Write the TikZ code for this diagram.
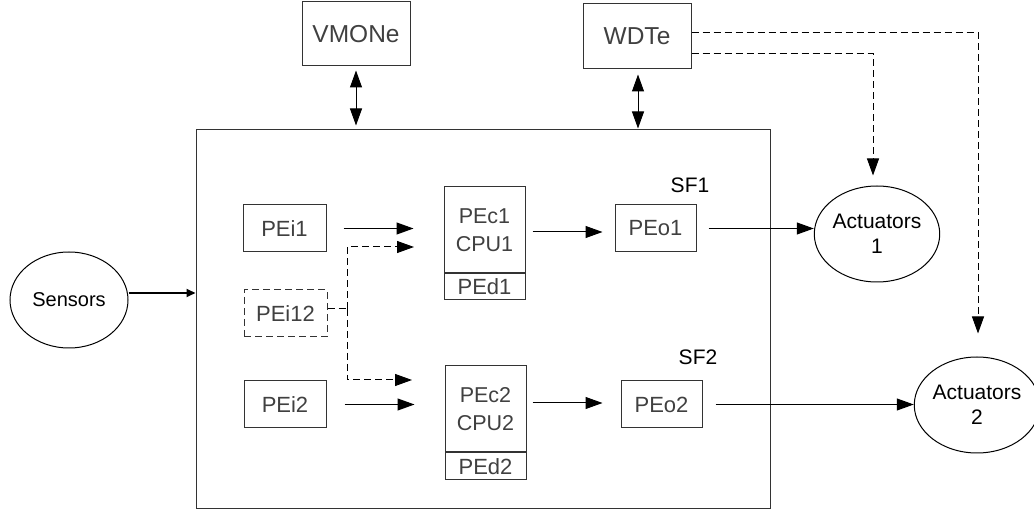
\documentclass[tikz,border=0pt]{standalone}
\usepackage{fontspec}
\setmainfont{Liberation Sans}
\usetikzlibrary{arrows.meta,shapes.geometric}
\begin{document}
\begin{tikzpicture}[x=1pt,y=-1pt,
  box/.style={draw=black!80, line width=1pt, inner sep=0pt, text=black!75,
    font=\fontsize{22}{28}\selectfont, align=center},
  big text/.style={font=\fontsize{24.5}{28}\selectfont},
  ell/.style={ellipse, draw=black, line width=1pt, inner sep=0pt,
    font=\fontsize{21}{25}\selectfont, align=center},
  lbl/.style={inner sep=0pt, font=\fontsize{21}{24}\selectfont},
  arr/.style={-{Triangle[length=17pt,width=12pt]}, line width=1pt},
  darr/.style={{Triangle[length=17pt,width=12pt]}-{Triangle[length=17pt,width=12pt]}, line width=1pt},
  dsh/.style={dash pattern=on 7pt off 4pt}]
\useasboundingbox (0,0) rectangle (1034,510);

% outer block
\node[box, minimum width=574pt, minimum height=378pt] (big) at (483,319) {};

% top boxes
\node[box, big text, minimum width=108pt, minimum height=64pt] (vmon) at (356,34) {VMONe};
\node[box, big text, minimum width=108pt, minimum height=65pt] (wdt) at (637,36.5) {WDTe};

% input PEs
\node[box, minimum width=83pt, minimum height=47pt] (pei1) at (284.5,228.5) {PEi1};
\node[box, dsh, minimum width=83pt, minimum height=47pt] (pei12) at (285.5,313.5) {PEi12};
\node[box, minimum width=82pt, minimum height=47pt] (pei2) at (285,404.5) {PEi2};

% compute PEs
\node[box, font=\fontsize{21.5}{28}\selectfont, minimum width=81pt, minimum height=86pt] (pec1) at (484.5,230) {PEc1\\CPU1};
\node[box, minimum width=81pt, minimum height=26pt, anchor=north] (ped1) at (pec1.south) {PEd1};
\node[box, font=\fontsize{21.5}{28}\selectfont, minimum width=81pt, minimum height=86pt] (pec2) at (485.5,409) {PEc2\\CPU2};
\node[box, minimum width=81pt, minimum height=27pt, anchor=north] (ped2) at (pec2.south) {PEd2};

% output PEs
\node[box, minimum width=81pt, minimum height=47pt] (peo1) at (655.5,228.5) {PEo1};
\node[box, minimum width=81pt, minimum height=47pt] (peo2) at (661.5,404.5) {PEo2};

\node[lbl] (sf1) at (690,185) {SF1};
\node[lbl] (sf2) at (698,357) {SF2};

% ellipses
\node[ell, font=\fontsize{20}{25}\selectfont, minimum width=118pt, minimum height=96pt] (sens) at (69,300) {Sensors};
\node[ell, minimum width=120pt, minimum height=96pt] (act1) at (877,234) {Actuators\\1};
\node[ell, minimum width=114pt, minimum height=96pt] (act2) at (977,405) {Actuators\\2};

% sensors -> block
\draw[-{Triangle[length=9pt,width=8pt]}, line width=2pt] ([yshift=7pt]sens.east) -- ([yshift=7pt]sens.east -| big.west);

% monitors <-> block
\draw[darr, shorten <=4pt, shorten >=4pt] (vmon.south) -- (vmon.south |- big.north);
\draw[darr, shorten <=5pt, shorten >=1pt] ([xshift=1pt]wdt.south) -- ([xshift=1pt]wdt.south |- big.north);

% inputs -> compute
\draw[arr, shorten <=17pt, shorten >=30pt] (pei1.east) -- (pei1.east -| pec1.west);
\draw[arr, shorten <=18pt, shorten >=30pt] (pei2.east) -- (pei2.east -| pec2.west);
\coordinate (split) at (347,309);
\draw[dsh, line width=1pt] ([yshift=4.5pt]pei12.east) -- (split);
\draw[arr, dsh] (split) |- (414,247);
\draw[arr, dsh] (split) |- (412,380);

% compute -> outputs
\draw[arr, shorten <=7pt, shorten >=12pt] ([yshift=-2pt]pec1.east) -- ([yshift=-2pt]pec1.east -| peo1.west);
\draw[arr, shorten <=6pt, shorten >=18pt] ([yshift=6pt]pec2.east) -- ([yshift=6pt]pec2.east -| peo2.west);

% outputs -> actuators
\draw[arr, shorten <=12pt] (peo1.east) -- (peo1.east -| act1.west);
\draw[arr, shorten <=13pt] (peo2.east) -- (peo2.east -| act2.west);

% watchdog -> actuators
\draw[arr, dsh, shorten >=23pt] ([yshift=3.5pt]wdt.east) -| ([xshift=1pt]act2.north);
\draw[arr, dsh, shorten >=10pt] ([yshift=-17.5pt]wdt.east) -| ([xshift=-4pt]act1.north);
\end{tikzpicture}
\end{document}
